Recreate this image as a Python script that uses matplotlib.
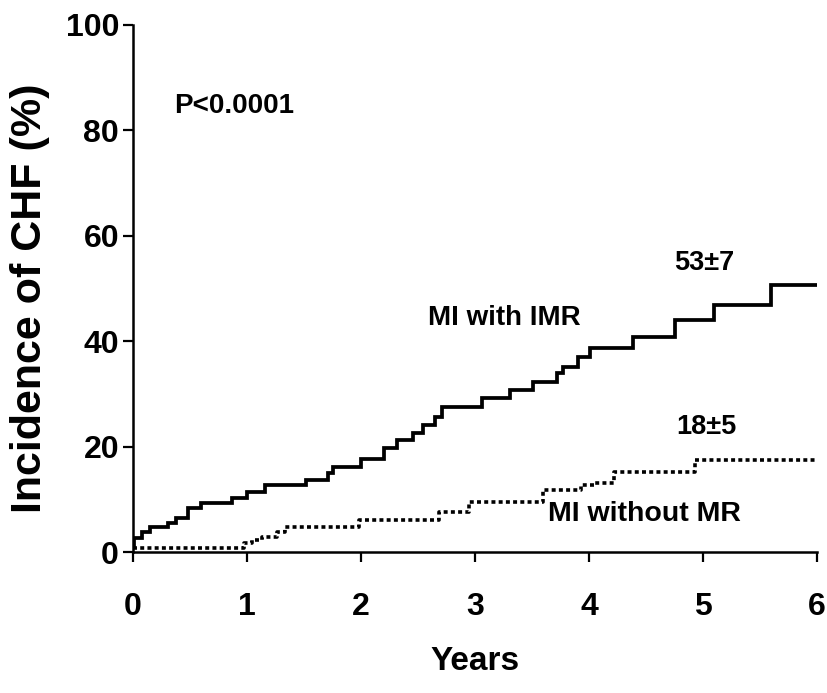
import matplotlib
matplotlib.use("Agg")
import matplotlib.pyplot as plt

# ---- data ----
imr_years = [0.0, 0.01, 0.08, 0.15, 0.31, 0.38, 0.48, 0.60, 0.87, 1.00, 1.16, 1.52,
             1.71, 1.75, 2.00, 2.20, 2.32, 2.46, 2.54, 2.65, 2.71, 3.06, 3.31, 3.51,
             3.72, 3.77, 3.90, 4.01, 4.39, 4.75, 5.10, 5.60, 6.00]
imr_pct = [1.0, 2.7, 3.8, 4.7, 5.5, 6.5, 8.3, 9.3, 10.2, 11.4, 12.7, 13.7,
           15.0, 16.1, 17.6, 19.7, 21.3, 22.6, 24.1, 25.6, 27.5, 29.2, 30.7, 32.3,
           34.0, 35.1, 37.0, 38.8, 40.8, 44.0, 46.9, 50.7, 50.7]

nomr_years = [0.0, 0.97, 1.04, 1.13, 1.26, 1.33, 1.98, 2.68, 2.95, 3.60, 3.93,
              4.05, 4.22, 4.93, 6.00]
nomr_pct = [0.8, 1.7, 2.3, 2.8, 3.8, 4.7, 6.1, 7.6, 9.5, 11.8, 12.7,
            13.1, 15.2, 17.5, 17.5]

x_ticks = [0, 1, 2, 3, 4, 5, 6]
y_ticks = [0, 20, 40, 60, 80, 100]

plt.rcParams['font.family'] = ['Liberation Sans', 'DejaVu Sans']
plt.rcParams['font.weight'] = 'bold'

fig = plt.figure(figsize=(8.27, 6.93), dpi=100)
ax = fig.add_axes([133/827, 1-552/693, (817-133)/827, (552-25)/693])

ax.plot(imr_years, imr_pct, drawstyle='steps-post', color='black', lw=2.7,
        solid_joinstyle='miter')
ax.plot(nomr_years, nomr_pct, drawstyle='steps-post', color='black', lw=2.6,
        linestyle=(0, (1.1, 0.9)), dash_capstyle='butt')

ax.set_xlim(0, 6)
ax.set_ylim(0, 100)
ax.set_xticks(x_ticks)
ax.set_yticks(y_ticks)
ax.tick_params(direction='out', length=7, width=1.6, labelsize=23)
ax.tick_params(axis='x', pad=22)
ax.tick_params(axis='y', pad=3)
for lab in ax.get_xticklabels() + ax.get_yticklabels():
    lab.set_fontweight('bold')
for s in ['top', 'right']:
    ax.spines[s].set_visible(False)
for s in ['left', 'bottom']:
    ax.spines[s].set_linewidth(1.8)

ax.set_xlabel('Years', fontsize=24, fontweight='bold', labelpad=17)
ax.set_ylabel('Incidence of CHF (%)', fontsize=31, fontweight='bold')
ax.yaxis.set_label_coords(-0.122, 0.482)

ax.text(0.886, 84.6, 'P<0.0001', fontsize=20, fontweight='bold', ha='center', va='center')
ax.text(3.26, 44.4, 'MI with IMR', fontsize=20, fontweight='bold', ha='center', va='center')
ax.text(5.01, 54.8, '53±7', fontsize=19.5, fontweight='bold', ha='center', va='center')
ax.text(5.03, 23.7, '18±5', fontsize=19.5, fontweight='bold', ha='center', va='center')
ax.text(4.49, 7.2, 'MI without MR', fontsize=20.5, fontweight='bold', ha='center', va='center')

fig.savefig('out.png', dpi=100, facecolor='white')
